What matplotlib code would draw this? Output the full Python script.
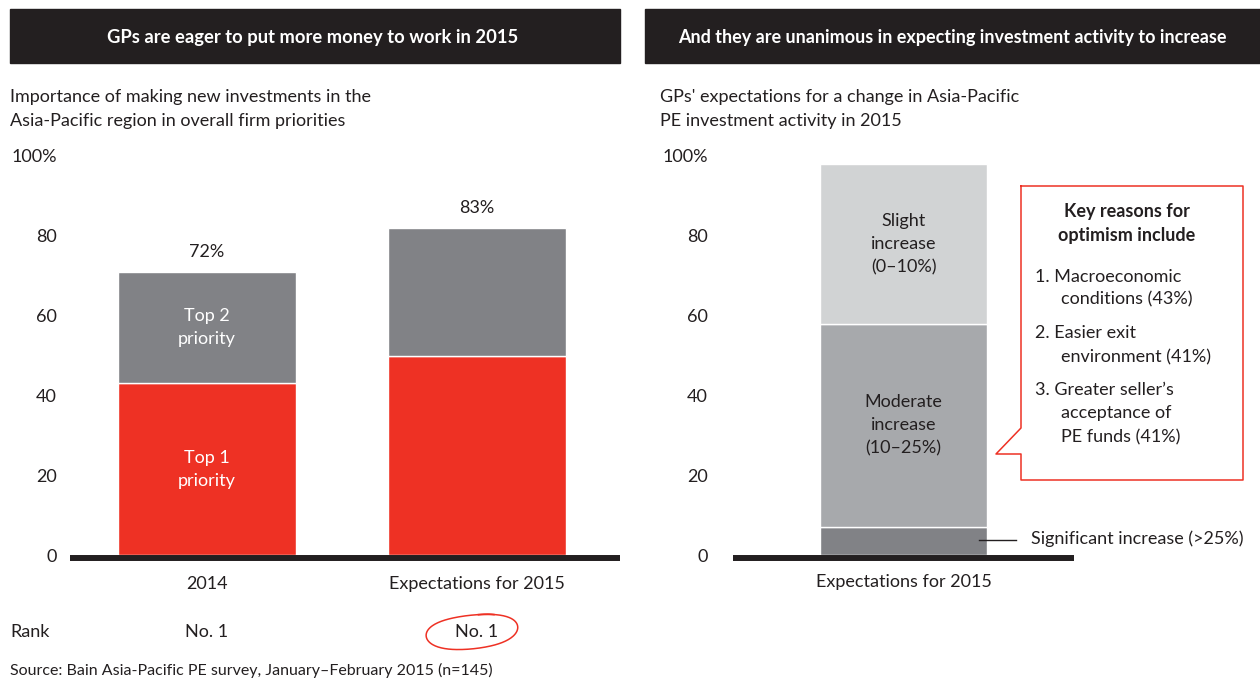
import numpy as np
import matplotlib
matplotlib.use('Agg')
import matplotlib.pyplot as plt

plt.rcParams['font.family'] = ['Lato', 'DejaVu Sans']

# Left chart data
categories = ['2014', 'Expectations for 2015']
top1 = [43, 50]
top2 = [28, 32]
totals = ['72%', '83%']
ranks = ['No. 1', 'No. 1']

# Right chart data
right_category = ['Expectations for 2015']
significant = [7]
moderate = [51]
slight = [40]

RED = '#EE3124'
DARK_GRAY = '#818286'
MID_GRAY = '#A7A9AC'
LIGHT_GRAY = '#D1D3D4'
TXT = '#231F20'
FS = 13

W, H = 1260, 680
fig = plt.figure(figsize=(W / 100, H / 100), dpi=100)


def px_axes(x0, x1, y_top, y_bottom):
    # axes box given in pixel coordinates (origin top-left)
    return fig.add_axes([x0 / W, (H - y_bottom) / H, (x1 - x0) / W, (y_bottom - y_top) / H])


# left stacked bars
ax1 = px_axes(70, 620, 156, 567)
xs = np.arange(len(categories))
ax1.bar(xs, top1, width=0.66, color=RED, edgecolor='white', linewidth=1)
ax1.bar(xs, top2, bottom=top1, width=0.66, color=DARK_GRAY, edgecolor='white', linewidth=1)
ax1.set_xlim(-0.508, 1.531)
ax1.set_ylim(-3, 100)
ax1.axhline(-0.75, color=TXT, lw=4.3, solid_capstyle='butt')
ax1.set_yticks([0, 20, 40, 60, 80, 100])
ax1.set_yticklabels(['0', '20', '40', '60', '80', '100%'])
ax1.set_xticks(xs)
ax1.set_xticklabels(categories)
ax1.tick_params(axis='y', length=0, pad=9.4, labelsize=FS, labelcolor=TXT)
ax1.tick_params(axis='x', length=0, pad=6.5, labelsize=FS, labelcolor=TXT)
for s in ax1.spines.values():
    s.set_visible(False)

for i in xs:
    ax1.annotate(totals[i], (i, top1[i] + top2[i]), xytext=(0, 14.5), textcoords='offset points',
                 ha='center', va='center', fontsize=FS, color=TXT)
    ax1.text(i, -19.3, ranks[i], ha='center', va='center', fontsize=FS, color=TXT)

ax1.text(0, top1[0] + top2[0] / 2, 'Top 2\npriority', ha='center', va='center',
         fontsize=FS, color='white', linespacing=1.55)
ax1.text(0, top1[0] / 2, 'Top 1\npriority', ha='center', va='center',
         fontsize=FS, color='white', linespacing=1.55)

# right stacked bar
ax2 = px_axes(733, 1074, 156, 567)
xr = np.arange(len(right_category))
b1 = np.array(significant)
b2 = b1 + np.array(moderate)
ax2.bar(xr, significant, width=167, color=DARK_GRAY, edgecolor='white', linewidth=1)
ax2.bar(xr, moderate, bottom=b1, width=167, color=MID_GRAY, edgecolor='white', linewidth=1)
ax2.bar(xr, slight, bottom=b2, width=167, color=LIGHT_GRAY, edgecolor='white', linewidth=1)
ax2.set_xlim(-170.5, 170.5)
ax2.set_ylim(-3, 100)
ax2.axhline(-0.75, color=TXT, lw=4.3, solid_capstyle='butt')
ax2.set_yticks([0, 20, 40, 60, 80, 100])
ax2.set_yticklabels(['0', '20', '40', '60', '80', '100%'])
ax2.set_xticks(xr)
ax2.set_xticklabels(right_category)
ax2.tick_params(axis='y', length=0, pad=18, labelsize=FS, labelcolor=TXT)
ax2.tick_params(axis='x', length=0, pad=5, labelsize=FS, labelcolor=TXT)
for s in ax2.spines.values():
    s.set_visible(False)

ax2.text(0, b2[0] + slight[0] / 2, 'Slight\nincrease\n(0\u201310%)', ha='center', va='center',
         fontsize=FS, color=TXT, linespacing=1.55)
ax2.text(0, b1[0] + moderate[0] / 2, 'Moderate\nincrease\n(10\u201325%)', ha='center', va='center',
         fontsize=FS, color=TXT, linespacing=1.55)

# overlay for headers, notes and callout (pixel coordinates)
ov = fig.add_axes([0, 0, 1, 1], facecolor='none')
ov.set_xlim(0, W)
ov.set_ylim(H, 0)
ov.axis('off')

ov.add_patch(plt.Rectangle((10, 9), 610, 54, color=TXT))
ov.add_patch(plt.Rectangle((645, 9), 615, 54, color=TXT))
ov.text(313, 37, 'GPs are eager to put more money to work in 2015', ha='center', va='center',
        color='white', fontsize=13.2, fontweight='bold')
ov.text(952, 37, 'And they are unanimous in expecting investment activity to increase', ha='center',
        va='center', color='white', fontsize=13, fontweight='bold')

ov.text(10, 97, 'Importance of making new investments in the', va='center', fontsize=FS, color=TXT)
ov.text(10, 121, 'Asia-Pacific region in overall firm priorities', va='center', fontsize=FS, color=TXT)
ov.text(660, 97, "GPs' expectations for a change in Asia-Pacific", va='center', fontsize=FS, color=TXT)
ov.text(660, 121, 'PE investment activity in 2015', va='center', fontsize=FS, color=TXT)

ov.text(10, 632, 'Rank', va='center', fontsize=FS, color=TXT)
ov.text(10, 670, 'Source: Bain Asia-Pacific PE survey, January\u2013February 2015 (n=145)',
        va='center', fontsize=11.5, color=TXT)

# hand-drawn ellipse around the 2015 rank
t = np.linspace(np.radians(60), np.radians(60 + 380), 200)
rx = 46 + 1.5 * np.sin(t)
ry = 18 + 1.2 * np.cos(2 * t)
ang = np.radians(-6)
ex = rx * np.cos(t)
ey = -ry * np.sin(t)
ov.plot(472 + ex * np.cos(ang) - ey * np.sin(ang), 632 + ex * np.sin(ang) + ey * np.cos(ang),
        color=RED, lw=1.1)

# significant increase note
ov.plot([979, 1016], [540, 540], color=TXT, lw=1)
ov.text(1031, 539, 'Significant increase (>25%)', va='center', fontsize=FS, color=TXT)

# callout box
cx = [1021, 1243, 1243, 1021, 1021, 996, 1021, 1021]
cy = [186, 186, 480, 480, 454, 454, 428, 186]
ov.plot(cx, cy, color=RED, lw=1.1)
ov.text(1127, 212, 'Key reasons for', ha='center', va='center', fontsize=FS,
        fontweight='bold', color=TXT)
ov.text(1127, 235, 'optimism include', ha='center', va='center', fontsize=FS,
        fontweight='bold', color=TXT)
lines = [(1035, 277, '1. Macroeconomic'), (1061, 299, 'conditions (43%)'),
         (1035, 333, '2. Easier exit'), (1061, 357, 'environment (41%)'),
         (1035, 390, '3. Greater seller\u2019s'), (1061, 413, 'acceptance of'),
         (1061, 437, 'PE funds (41%)')]
for x, y, s in lines:
    ov.text(x, y, s, va='center', fontsize=FS, color=TXT)

fig.savefig('out.png', dpi=100)
